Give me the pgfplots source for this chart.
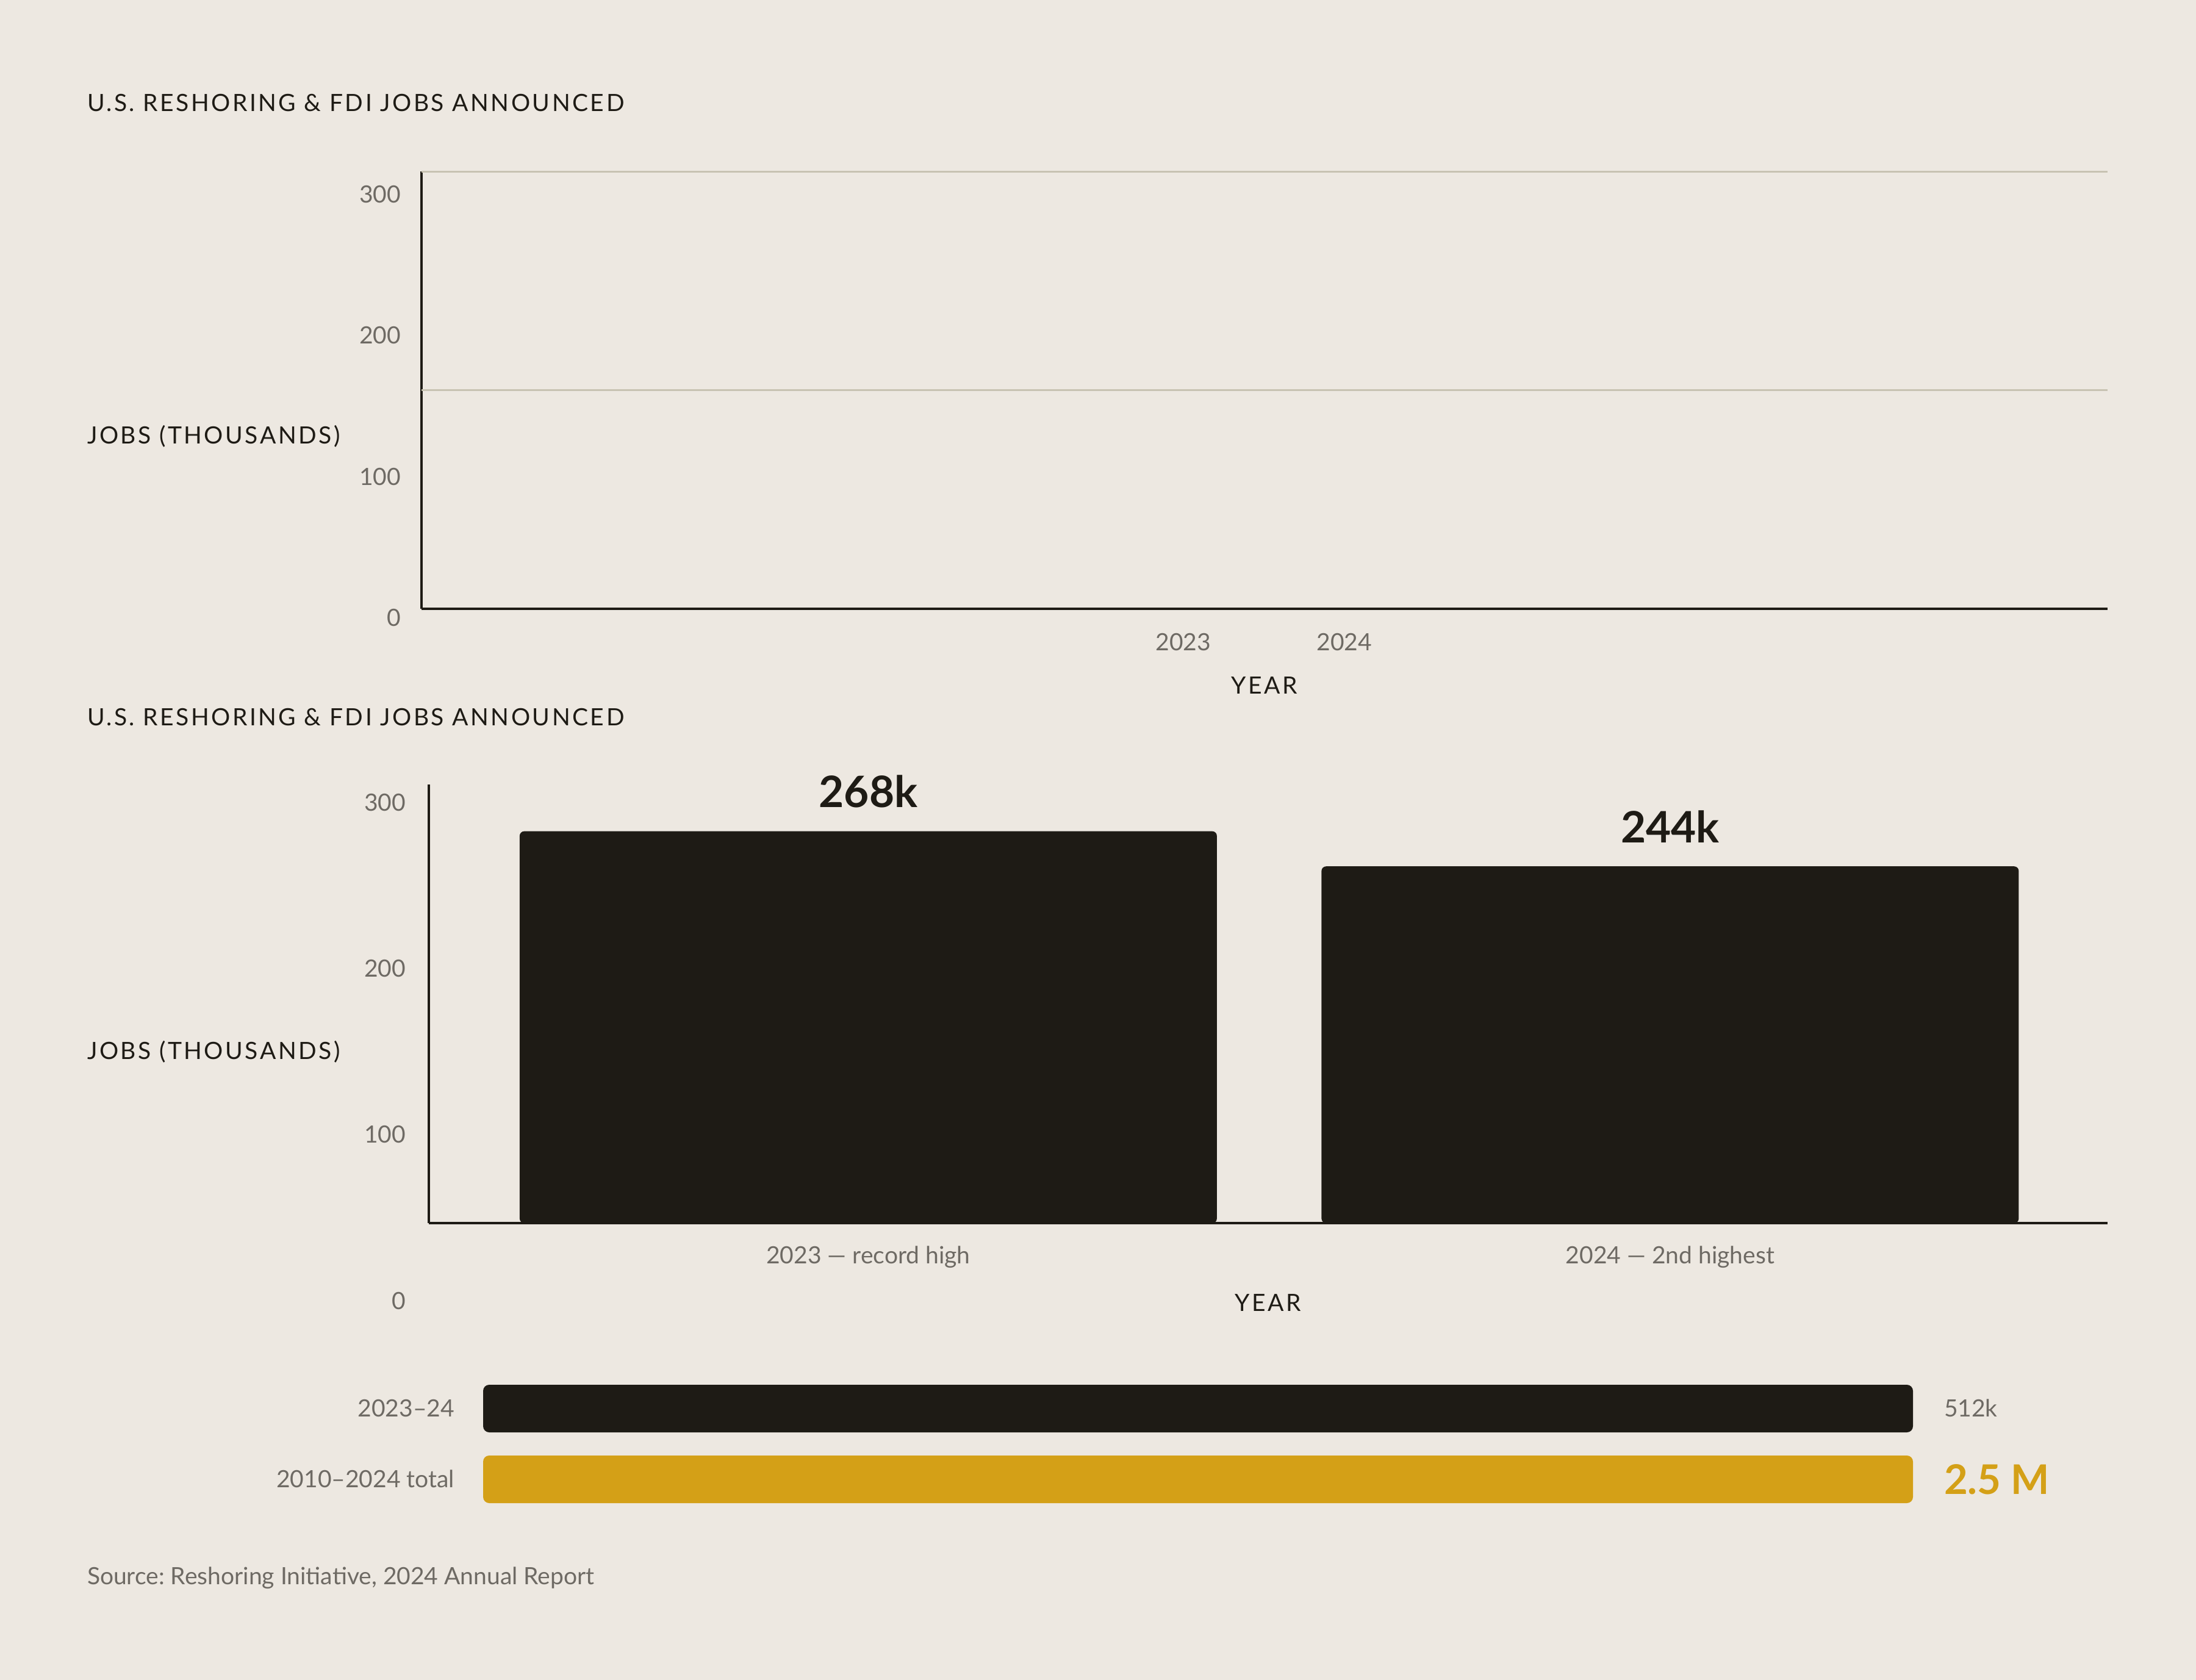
\documentclass[border=0pt]{standalone}
\usepackage{fontspec}
\setmainfont{Lato}
\newfontfamily\spaced[LetterSpace=9]{Lato}
\usepackage{pgfplots}
\pgfplotsset{compat=1.18}
\definecolor{bg}{HTML}{EDE8E1}
\definecolor{ink}{HTML}{1E1B15}
\definecolor{muted}{HTML}{6E6A64}
\definecolor{gridc}{HTML}{C8C3B2}
\definecolor{gold}{HTML}{D4A017}
\newcommand\lbl{\fontsize{7.8}{9}\selectfont}
\frenchspacing

\pgfplotsset{
  panel/.style={
    anchor=south west, scale only axis, clip=false,
    /pgf/number format/assume math mode=true,
    major tick length=0pt,
    ticklabel style={font=\lbl, text=muted, inner sep=0pt},
    axis line style={ink, line width=0.65pt},
  },
}

\begin{document}
\begin{tikzpicture}
\path[use as bounding box, fill=bg] (0,0) rectangle (720pt,-550.8pt);

% titles and free text
\node[anchor=base west, inner sep=0pt, font=\spaced\lbl, text=ink] at (28.4pt,-36.6pt) {U.S. RESHORING \& FDI JOBS ANNOUNCED};
\node[anchor=base west, inner sep=0pt, font=\spaced\lbl, text=ink] at (28.4pt,-145.6pt) {JOBS (THOUSANDS)};
\node[anchor=base west, inner sep=0pt, font=\spaced\lbl, text=ink] at (28.4pt,-237.8pt) {U.S. RESHORING \& FDI JOBS ANNOUNCED};
\node[anchor=base west, inner sep=0pt, font=\spaced\lbl, text=ink] at (28.4pt,-347.2pt) {JOBS (THOUSANDS)};
\node[anchor=base west, inner sep=0pt, font=\lbl, text=muted] at (28.4pt,-519.4pt) {Source: Reshoring Initiative, 2024 Annual Report};

% top panel (empty)
\begin{axis}[panel,
  at={(138.2pt,-199.6pt)}, width=552.8pt, height=143.4pt,
  xmin=2018.27, xmax=2028.74, ymin=0, ymax=310,
  axis x line*=bottom, axis y line*=left,
  ytick={0,100,200,300},
  xtick={2023,2024}, xticklabels={2023,2024},
  extra y ticks={155,310}, extra y tick labels={},
  extra y tick style={grid=major},
  major grid style={gridc, line width=0.6pt},
  yticklabel style={anchor=base east, xshift=-6.6pt, yshift=-5.7pt},
  xticklabel style={anchor=base, yshift=-13.6pt},
  xlabel={YEAR},
  xlabel style={at={(rel axis cs:0.5,0)}, anchor=base, inner sep=0pt, yshift=-27.8pt, font=\spaced\lbl, text=ink},
]
\end{axis}

% bottom panel bars
\begin{axis}[panel,
  at={(140.6pt,-401pt)}, width=550.4pt, height=143.8pt,
  xmin=-0.548, xmax=1.5455, ymin=0, ymax=300,
  axis x line*=bottom, axis y line*=left,
  ytick=\empty,
  xtick={0,1}, xticklabels={2023 — record high, 2024 — 2nd highest},
  xticklabel style={anchor=base, yshift=-13.2pt},
  xlabel={YEAR},
  xlabel style={at={(rel axis cs:0.5,0)}, anchor=base, inner sep=0pt, yshift=-28.8pt, font=\spaced\lbl, text=ink},
]
\addplot[ybar, bar width=228.6pt, fill=ink, draw=none, rounded corners=1.5pt,
  nodes near coords={\pgfmathprintnumber{\pgfplotspointmeta}k},
  every node near coord/.append style={font=\bfseries\fontsize{14.2}{16}\selectfont, text=ink, anchor=base, inner sep=0pt, yshift=7.8pt}]
  coordinates {(0,268) (1,244)};
\end{axis}

% bottom panel tick labels (set apart from the bars)
\begin{axis}[panel,
  at={(140.6pt,-426.4pt)}, width=550.4pt, height=163.4pt,
  xmin=0, xmax=1, ymin=0, ymax=300,
  axis line style={draw=none},
  xtick=\empty, ytick={0,100,200,300},
  yticklabel style={anchor=base east, xshift=-7.4pt, yshift=-2.8pt},
]
\end{axis}

% totals
\begin{axis}[panel,
  at={(158.4pt,-496.6pt)}, width=468.8pt, height=46.4pt,
  xmin=0, xmax=100, ymin=-0.5, ymax=1.5,
  axis line style={draw=none},
  xtick=\empty, ytick={0,1},
  yticklabels={2010–2024 total, 2023–24},
  yticklabel style={anchor=base east, xshift=-9.2pt, yshift=-2.7pt},
  point meta=explicit symbolic,
]
\addplot[xbar, bar width=15.6pt, fill=ink, draw=none, rounded corners=2pt,
  nodes near coords,
  every node near coord/.append style={font=\lbl, text=muted, anchor=base west, inner sep=0pt, xshift=10pt, yshift=-2.7pt}]
  coordinates {(100,1) [512k]};
\addplot[xbar, bar width=15.6pt, fill=gold, draw=none, rounded corners=2pt,
  nodes near coords,
  every node near coord/.append style={font=\bfseries\fontsize{13.4}{15}\selectfont, text=gold, anchor=base west, inner sep=0pt, xshift=10pt, yshift=-4.8pt}]
  coordinates {(100,0) [2.5 M]};
\end{axis}
\end{tikzpicture}
\end{document}
